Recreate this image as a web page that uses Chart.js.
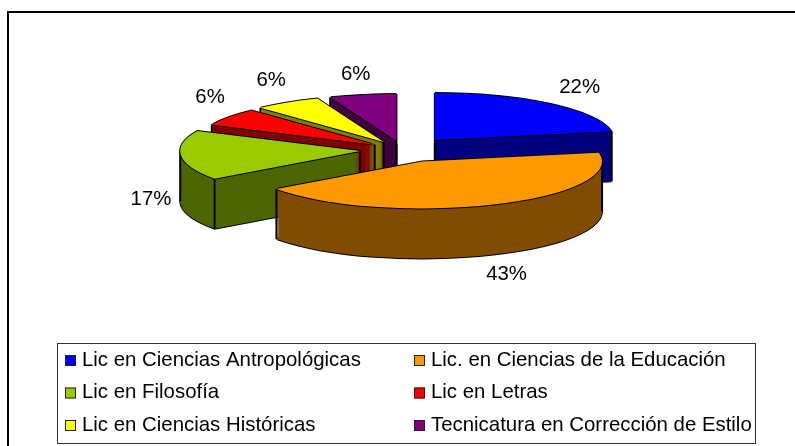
<!DOCTYPE html>
<html>
<head>
<meta charset="utf-8">
<style>
  html, body { margin: 0; padding: 0; background: #fff; }
  canvas { display: block; }
</style>
<script src="https://cdn.jsdelivr.net/npm/chart.js@4"></script>
</head>
<body>
<canvas id="myChart" width="795" height="446"></canvas>
<script>
const categories = [
	"Lic en Ciencias Antropológicas",
	"Lic. en Ciencias de la Educación",
	"Lic en Filosofía",
	"Lic en Letras",
	"Lic en Ciencias Históricas",
	"Tecnicatura en Corrección de Estilo",
];
const percentages = [22, 43, 17, 6, 6, 6];
const topColors = ["#0000ff", "#ff9900", "#99cc00", "#ff0000", "#ffff00", "#800080"];
const sideColors = ["#000080", "#804d00", "#4d6600", "#800000", "#808000", "#400040"];

// how far each slice is pulled out of the pie
const explode = [50, 48, 43, 35, 36, 35];
// label position relative to the rim of its slice
const labelNudge = [[30, -16], [13, 20], [-30, -6], [-19, -20], [-16, -22], [-7, -21]];
// back slices first, orange is in front of everything
const drawOrder = [5, 4, 3, 2, 0, 1];

const squash = 0.261;
const depth = 50;
const font = "20.4px 'Liberation Sans', Arial, sans-serif";

function place(arc, i) {
	const mid = (arc.startAngle + arc.endAngle) / 2;
	return { x: Math.cos(mid) * explode[i], y: Math.sin(mid) * explode[i] };
}

// draws the arc squashed flat, moved right and down by dx, dy on the screen
function flatArc(ctx, arc, shift, color, dx, dy) {
	arc.options.backgroundColor = color;
	arc.options.borderWidth = 0;
	ctx.save();
	ctx.translate(shift.x + dx, arc.y + dy);
	ctx.scale(1, squash);
	ctx.translate(0, shift.y - arc.y);
	arc.draw(ctx);
	ctx.restore();
}

// black copies around the shape give an outline that keeps its width when squashed
function outline(ctx, arc, shift, dy) {
	[[-1, 0], [1, 0], [0, -1], [0, 1]].forEach((o) => {
		flatArc(ctx, arc, shift, "#000", o[0], dy + o[1]);
	});
}

function vertical(ctx, x, y) {
	ctx.beginPath();
	ctx.moveTo(x, y);
	ctx.lineTo(x, y + depth);
	ctx.stroke();
}

function drawSlice(ctx, arc, i) {
	const shift = place(arc, i);
	const r = arc.outerRadius;
	const toScreen = (angle, radius) => ({
		x: arc.x + shift.x + Math.cos(angle) * radius,
		y: arc.y + (shift.y + Math.sin(angle) * radius) * squash,
	});
	const a = arc.startAngle, b = arc.endAngle;

	// side walls: the same arc again and again, one pixel lower each time
	outline(ctx, arc, shift, depth);
	for (let d = depth; d > 0; d--) {
		flatArc(ctx, arc, shift, sideColors[i], 0, d);
	}

	ctx.save();
	ctx.strokeStyle = "#000";
	ctx.lineWidth = 2;
	const apex = toScreen(a, 0);
	if (Math.cos(a) < 0 || Math.cos(b) > 0) vertical(ctx, apex.x, apex.y);
	const s = toScreen(a, r), e = toScreen(b, r);
	if (Math.sin(a) > 0 || Math.cos(a) < 0) vertical(ctx, s.x, s.y);
	if (Math.sin(b) > 0 || Math.cos(b) > 0) vertical(ctx, e.x, e.y);
	[0, Math.PI].forEach((side) => {
		if (a < side && b > side) {
			const p = toScreen(side, r);
			vertical(ctx, p.x, p.y);
		}
	});
	ctx.restore();

	// top face
	outline(ctx, arc, shift, 0);
	flatArc(ctx, arc, shift, topColors[i], 0, 0);
}

function drawLabels(ctx, arcs) {
	ctx.save();
	ctx.font = font;
	ctx.fillStyle = "#000";
	ctx.textAlign = "center";
	ctx.textBaseline = "middle";
	arcs.forEach((arc, i) => {
		const mid = (arc.startAngle + arc.endAngle) / 2;
		const shift = place(arc, i);
		const x = arc.x + shift.x + Math.cos(mid) * arc.outerRadius;
		const y = arc.y + (shift.y + Math.sin(mid) * arc.outerRadius) * squash;
		const below = Math.sin(mid) > 0 ? depth : 0;
		ctx.fillText(percentages[i] + "%", x + labelNudge[i][0], y + below + labelNudge[i][1]);
	});
	ctx.restore();
}

// legend box, two columns by three rows
function drawLegend(ctx) {
	ctx.save();
	ctx.strokeStyle = "#333";
	ctx.lineWidth = 1;
	ctx.strokeRect(57.5, 343.5, 698, 100);
	ctx.font = font;
	ctx.textBaseline = "middle";
	ctx.textAlign = "left";
	categories.forEach((name, i) => {
		const x = i % 2 === 0 ? 65 : 414;
		const y = 361 + Math.floor(i / 2) * 32.5;
		ctx.fillStyle = topColors[i];
		ctx.fillRect(x, y - 6, 11, 11);
		ctx.strokeStyle = "#222";
		ctx.strokeRect(x + 0.5, y - 5.5, 10, 10);
		ctx.fillStyle = "#000";
		ctx.fillText(name, x + 17, y - 1);
	});
	ctx.restore();
}

const pie3d = {
	id: "pie3d",
	beforeDraw(chart) {
		const ctx = chart.ctx;
		ctx.save();
		ctx.fillStyle = "#fff";
		ctx.fillRect(0, 0, chart.width, chart.height);
		// only the top and left of the outer frame are inside the picture
		ctx.strokeStyle = "#000";
		ctx.lineWidth = 2;
		ctx.beginPath();
		ctx.moveTo(chart.width, 12);
		ctx.lineTo(8, 12);
		ctx.lineTo(8, chart.height);
		ctx.stroke();
		ctx.restore();
	},
	beforeDatasetsDraw(chart) {
		const ctx = chart.ctx;
		const arcs = chart.getDatasetMeta(0).data;
		drawOrder.forEach((i) => drawSlice(ctx, arcs[i], i));
		drawLabels(ctx, arcs);
		drawLegend(ctx);
		return false;
	},
};

new Chart(document.getElementById("myChart"), {
	type: "pie",
	data: {
		labels: categories,
		datasets: [
			{
				data: percentages,
				backgroundColor: topColors,
				borderWidth: 0,
			},
		],
	},
	options: {
		responsive: false,
		animation: false,
		radius: 180,
		layout: { padding: { left: 11, bottom: 146 } },
		plugins: {
			legend: { display: false },
			tooltip: { enabled: false },
		},
	},
	plugins: [pie3d],
});
</script>
</body>
</html>
